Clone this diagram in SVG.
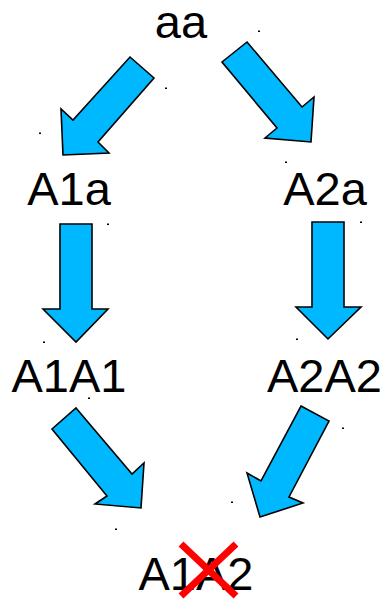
<svg xmlns="http://www.w3.org/2000/svg" width="386" height="601" viewBox="0 0 386 601">
<style>
.lbl{font-family:"Liberation Sans",Arial,sans-serif;font-size:47px;fill:#000;text-anchor:middle}
.arr{fill:#00b8ff;stroke:#000;stroke-width:1.6;stroke-linejoin:miter}
.dot{fill:#000}
.x{stroke:#ff0000;stroke-width:7;stroke-linecap:butt}
</style>
<rect width="386" height="601" fill="#fff"/>
<g id="connectors">
<polygon class="arr" points="130,57 154,78 98,142 109,153 63,155 61,109 73,120"/>
<polygon class="arr" points="247,42 302,107 314,97 311,142 265,138 277,128 222,62"/>
<polygon class="arr" points="60,224 92,224 92,309 108,309 76,342 43,309 60,309"/>
<polygon class="arr" points="312,222 344,222 344,307 361,307 328,339 296,307 312,307"/>
<polygon class="arr" points="76,408 132,474 144,463 141,508 95,504 107,496 52,429"/>
<polygon class="arr" points="301,406 329,421 289,497 303,503 260,517 247,473 261,481"/>
</g>
<g id="node-aa"><text class="lbl" x="181" y="38">aa</text></g>
<g id="node-A1a"><text class="lbl" x="69" y="205">A1a</text></g>
<g id="node-A2a"><text class="lbl" x="325" y="205">A2a</text></g>
<g id="node-A1A1"><text class="lbl" x="69" y="392">A1A1</text></g>
<g id="node-A2A2"><text class="lbl" x="324.5" y="392">A2A2</text></g>
<g id="node-A1A2">
<text class="lbl" x="196" y="590">A1A2</text>
<line class="x" x1="181" y1="544" x2="236" y2="596"/>
<line class="x" x1="236" y1="544" x2="181" y2="596"/>
</g>
<g id="dots">
<rect class="dot" x="258" y="30.5" width="2" height="1.5"/>
<rect class="dot" x="165" y="87.5" width="2" height="1.5"/>
<rect class="dot" x="39" y="132.5" width="2" height="1.5"/>
<rect class="dot" x="285" y="161.5" width="2" height="1.5"/>
<rect class="dot" x="107" y="223.5" width="2" height="1.5"/>
<rect class="dot" x="360" y="221.5" width="2" height="1.5"/>
<rect class="dot" x="43" y="341.5" width="2" height="1.5"/>
<rect class="dot" x="296" y="338.5" width="2" height="1.5"/>
<rect class="dot" x="88" y="397.5" width="2" height="1.5"/>
<rect class="dot" x="342" y="427.5" width="2" height="1.5"/>
<rect class="dot" x="231" y="501.5" width="2" height="1.5"/>
<rect class="dot" x="115" y="528.5" width="2" height="1.5"/>
</g>
</svg>
